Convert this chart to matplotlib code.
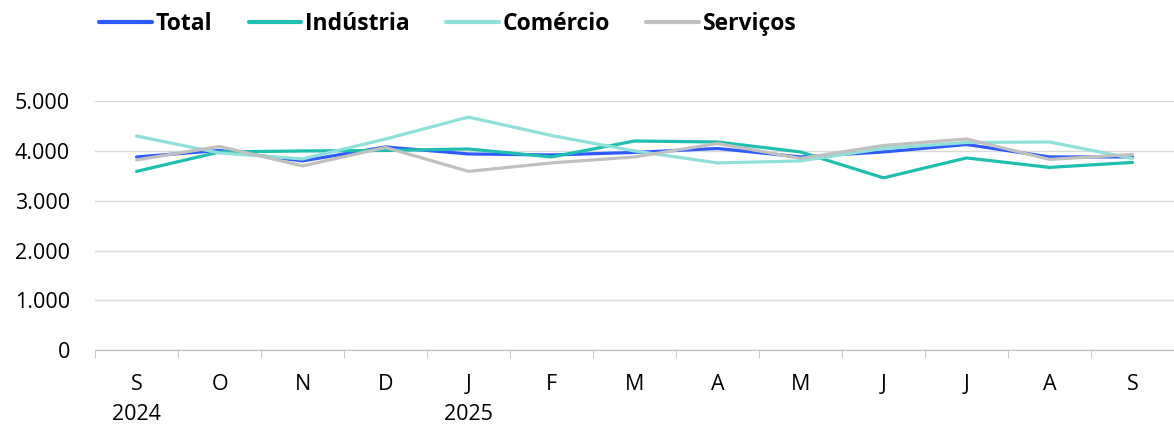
import numpy as np
import matplotlib.pyplot as plt
from matplotlib.ticker import FuncFormatter

plt.rcParams['font.family'] = ['Open Sans', 'DejaVu Sans']

meses = ['S\n2024', 'O', 'N', 'D', 'J\n2025', 'F', 'M', 'A', 'M', 'J', 'J', 'A', 'S']

total     = [3880, 4010, 3800, 4080, 3940, 3920, 3970, 4050, 3880, 3980, 4130, 3880, 3880]
industria = [3590, 3980, 4000, 4010, 4040, 3880, 4200, 4180, 3980, 3460, 3860, 3670, 3770]
comercio  = [4300, 3960, 3840, 4240, 4680, 4310, 4000, 3760, 3800, 4050, 4170, 4180, 3850]
servicos  = [3820, 4090, 3700, 4070, 3590, 3760, 3880, 4150, 3850, 4110, 4240, 3830, 3930]

series = [('Total', total, '#2E5BFF'),
          ('Indústria', industria, '#1FBFAF'),
          ('Comércio', comercio, '#8FE0D8'),
          ('Serviços', servicos, '#C0C0C0')]

fig = plt.figure(figsize=(11.74, 4.25), dpi=100)
ax = fig.add_axes([0.081, 0.176, 0.919, 0.586])

x = np.arange(len(meses))
for nome, vals, cor in series:
    ax.plot(x, vals, color=cor, lw=2.3, label=nome, solid_capstyle='round')

ax.set_ylim(0, 5000)
ax.set_xlim(-0.5, len(meses) - 0.5)
ax.set_yticks(np.arange(0, 5001, 1000))
ax.yaxis.set_major_formatter(FuncFormatter(lambda v, p: f'{int(v):,}'.replace(',', '.')))
ax.grid(axis='y', color='#D9D9D9', lw=1)
ax.set_axisbelow(True)

ax.set_xticks(x)
ax.set_xticklabels(meses, fontsize=15.5, linespacing=1.6)
ax.set_xticks(np.arange(-0.5, len(meses), 1), minor=True)
ax.tick_params(axis='x', which='major', length=0, pad=17)
ax.tick_params(axis='x', which='minor', length=6, color='#BFBFBF')
ax.tick_params(axis='y', length=0, labelsize=15.5, pad=18)
for s in ['top', 'right', 'left']:
    ax.spines[s].set_visible(False)
ax.spines['bottom'].set_color('#BFBFBF')

leg = fig.legend(loc='center left', bbox_to_anchor=(0.067, 0.944), ncol=4, frameon=False,
                 handlelength=2.3, handletextpad=0.15, columnspacing=1.6,
                 prop={'weight': 'bold', 'size': 16.5})
for h in leg.legend_handles:
    h.set_linewidth(3)

fig.savefig('out.png', dpi=100)
